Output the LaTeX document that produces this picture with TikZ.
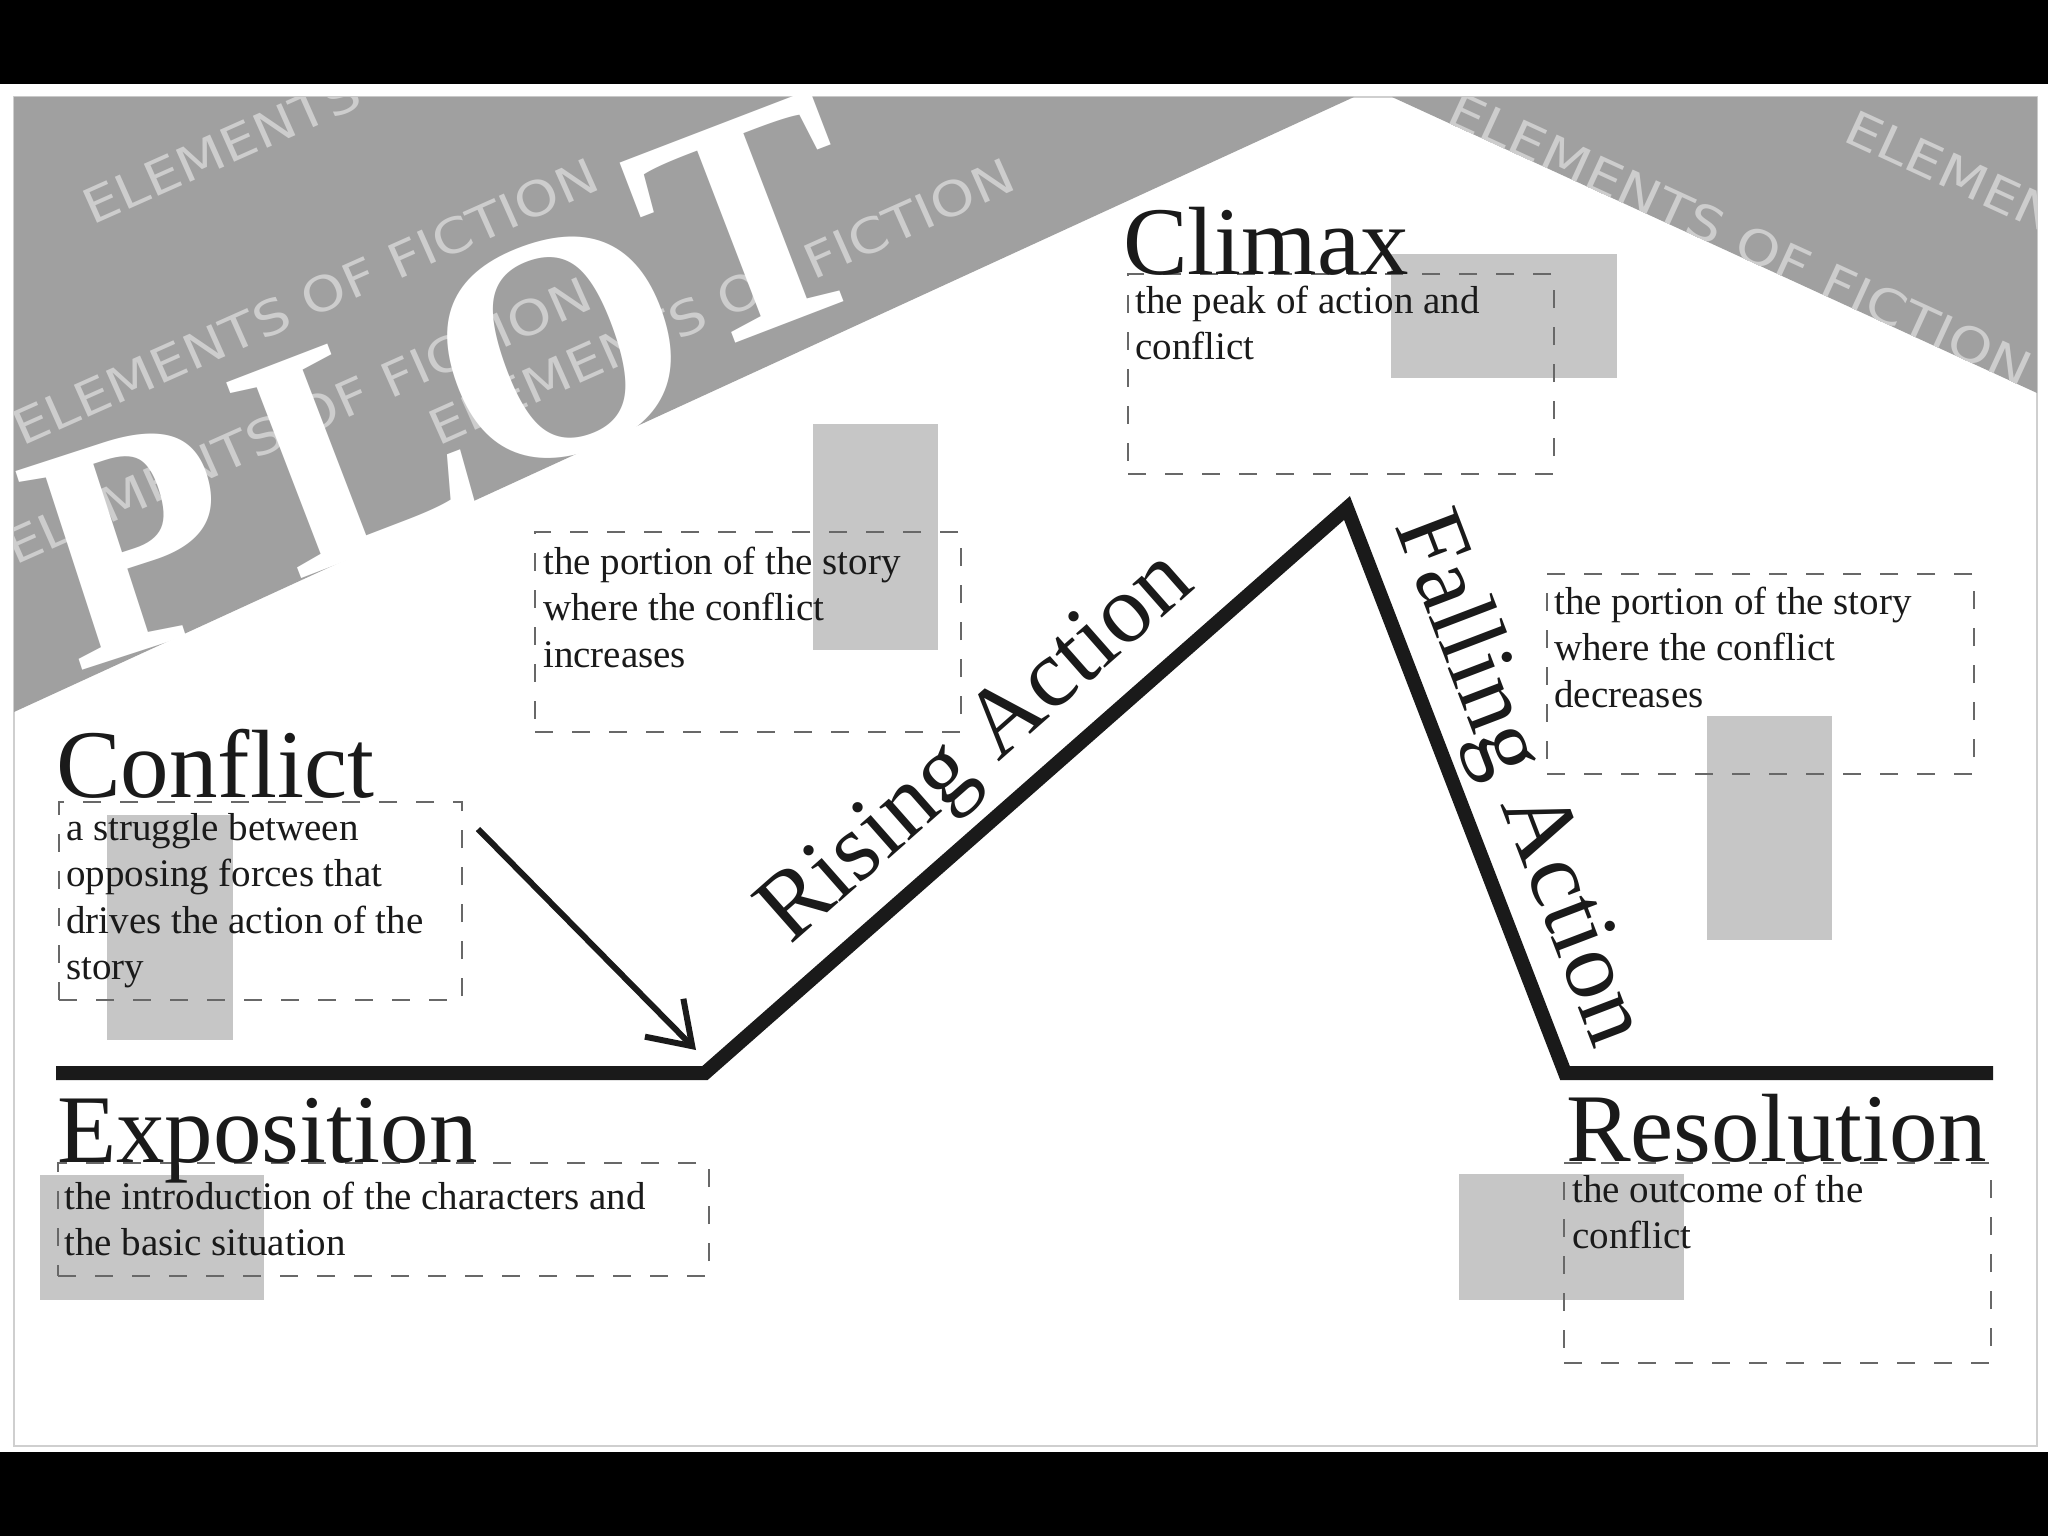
\documentclass[tikz,border=0pt]{standalone}
\usepackage{fontspec}
\setmainfont{Liberation Serif}
\newfontfamily\grungefont{DejaVu Sans}
\usetikzlibrary{arrows.meta}
\definecolor{band}{HTML}{A0A0A0}
\definecolor{bandtext}{HTML}{CDCDCD}
\definecolor{patch}{HTML}{C6C6C6}
\definecolor{dashc}{HTML}{686868}
\definecolor{framec}{HTML}{CFCFCF}
\definecolor{ink}{HTML}{1A1A1A}
\tikzset{
  bandword/.style={font=\grungefont\fontsize{48}{48}\selectfont, text=bandtext, anchor=base west, inner sep=0pt},
  plotletter/.style={font=\bfseries\fontsize{320}{320}\selectfont, text=white, anchor=base, inner sep=0pt},
  head/.style={font=\fontsize{97}{97}\selectfont, text=ink, anchor=base west, inner sep=0pt},
  desc/.style={font=\fontsize{39}{46.5}\selectfont, text=ink, anchor=base west, inner sep=0pt},
  dbox/.style={draw=dashc, line width=2pt, dash pattern=on 18pt off 19pt, anchor=north west, inner sep=0pt},
  patchbox/.style={fill=patch, draw=none, anchor=north west, inner sep=0pt},
  plotline/.style={draw=ink, line width=14pt, line join=miter, line cap=butt},
  pointer/.style={draw=ink, line width=6pt, -{Straight Barb[length=40pt,width=54pt]}}
}
\newcommand{\bw}[1]{\scalebox{1.17}[1]{#1}}
\newcommand{\dtext}[1]{\parbox[t]{700pt}{\raggedright #1}}
\begin{document}
\begin{tikzpicture}[x=1pt,y=-1pt]
\useasboundingbox (0,0) rectangle (2048,1536);
\fill[black] (0,0) rectangle (2048,1536);
\fill[white] (0,84) rectangle (2048,1452);
\draw[framec, line width=2pt] (14,97) rectangle (2037,1446);
% grey roof bands
\fill[band] (14,97) -- (1354,97) -- (14,712) -- cycle;
\fill[band] (1392,97) -- (2037,97) -- (2037,393) -- cycle;
% watermark words
\begin{scope}
\clip (14,97) -- (1354,97) -- (14,712) -- cycle;
\node[bandword, rotate=24] (ef1) at (92,226) {\bw{ELEMENTS}};
\node[bandword, rotate=24] (ef2) at (22,447) {\bw{ELEMENTS OF FICTION}};
\node[bandword, rotate=24] (ef3) at (15,566) {\bw{ELEMENTS OF FICTION}};
\node[bandword, rotate=24] (ef4) at (438,447) {\bw{ELEMENTS OF FICTION}};
\end{scope}
\begin{scope}
\clip (1392,97) -- (2037,97) -- (2037,393) -- cycle;
\node[bandword, rotate=-24.7] (ef5) at (1444,122) {\bw{ELEMENTS OF FICTION}};
\node[bandword, rotate=-24.7] (ef6) at (1841,140) {\bw{ELEMENTS OF FICTION}};
\end{scope}
% PLOT title
\node[plotletter, rotate=18] (pP) at (168,642) {P};
\node[plotletter, rotate=21] (pL) at (396,542) {L};
\node[plotletter, rotate=20] (pO) at (595,446) {O};
\node[plotletter, rotate=21] (pT) at (790,322) {T};
% grey patches
\node[patchbox, minimum width=226pt, minimum height=124pt] (pa1) at (1391,254) {};
\node[patchbox, minimum width=125pt, minimum height=226pt] (pa2) at (813,424) {};
\node[patchbox, minimum width=125pt, minimum height=224pt] (pa3) at (1707,716) {};
\node[patchbox, minimum width=126pt, minimum height=225pt] (pa4) at (107,815) {};
\node[patchbox, minimum width=224pt, minimum height=125pt] (pa5) at (40,1175) {};
\node[patchbox, minimum width=225pt, minimum height=126pt] (pa6) at (1459,1174) {};
% dashed boxes
\node[dbox, minimum width=426pt, minimum height=200pt] (bclimax) at (1127,273) {};
\node[dbox, minimum width=426pt, minimum height=200pt] (brising) at (534,531) {};
\node[dbox, minimum width=427pt, minimum height=200pt] (bfalling) at (1546,573) {};
\node[dbox, minimum width=403pt, minimum height=198pt] (bconflict) at (58,801) {};
\node[dbox, minimum width=651pt, minimum height=113pt] (bexpo) at (57,1162) {};
\node[dbox, minimum width=427pt, minimum height=200pt] (breso) at (1563,1162) {};
% plot line
\coordinate (k0) at (56,1073);
\coordinate (k1) at (705,1073);
\coordinate (k2) at (1347,508);
\coordinate (k3) at (1565,1073);
\coordinate (k4) at (1993,1073);
\draw[plotline] (k0) -- (k1) -- (k2) -- (k3) -- (k4);
% conflict pointer
\coordinate (a0) at (478,829);
\coordinate (a1) at (696,1050);
\draw[pointer] (a0) -- (a1);
% headings
\node[head] (climax) at (1123,274) {Climax};
\node[head] (conflict) at (56,797) {Conflict};
\node[head] (expo) at (57,1162) {Exposition};
\node[head] (reso) at (1566,1161) {Resolution};
\node[head, rotate=41.4] (rising) at (790,946) {Rising Action};
\node[head, rotate=-69.1] (falling) at (1394,525) {Falling Action};
% descriptions
\node[desc] (dclimax) at (1135,313) {\dtext{the peak of action and\\conflict}};
\node[desc] (drising) at (543,574) {\dtext{the portion of the story\\where the conflict\\increases}};
\node[desc] (dfalling) at (1554,614) {\dtext{the portion of the story\\where the conflict\\decreases}};
\node[desc] (dconflict) at (66,840) {\dtext{a struggle between\\opposing forces that\\drives the action of the\\story}};
\node[desc] (dexpo) at (64,1209) {\dtext{the introduction of the characters and\\the basic situation}};
\node[desc] (dreso) at (1572,1202) {\dtext{the outcome of the\\conflict}};
\end{tikzpicture}
\end{document}
